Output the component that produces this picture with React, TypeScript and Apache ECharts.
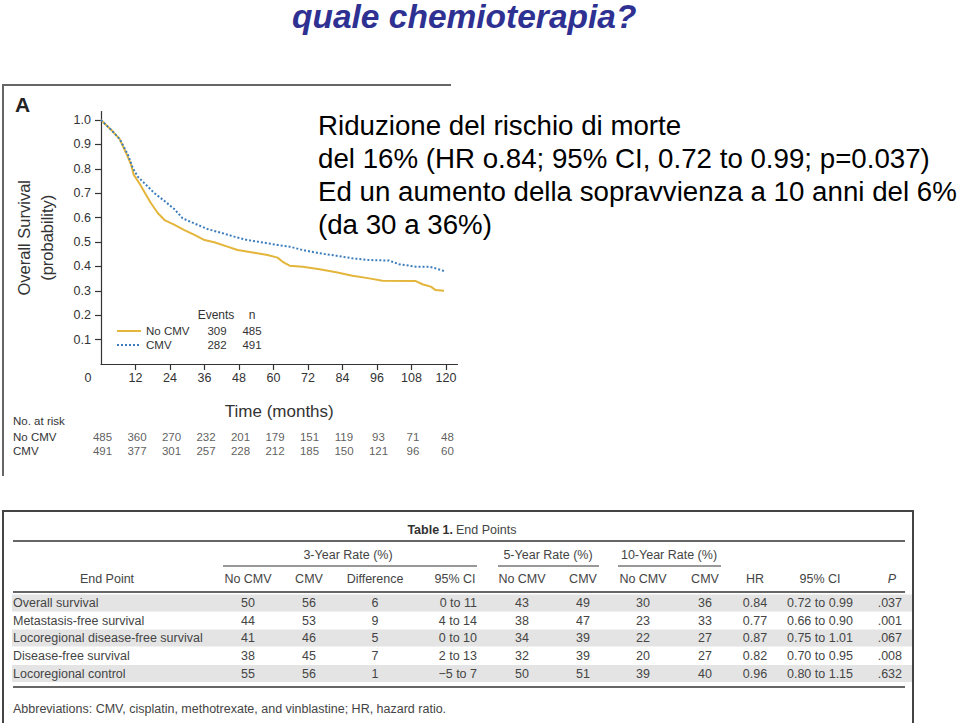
import React, { useEffect, useRef } from 'react';
import * as echarts from 'echarts';

const FONT = '"Liberation Sans", Arial, Helvetica, sans-serif';

// ---- texts ----
const titleText = 'quale chemioterapia?';
const noteLines = [
  'Riduzione del rischio di morte',
  'del 16% (HR o.84; 95% CI, 0.72 to 0.99; p=0.037)',
  'Ed un aumento della sopravvienza a 10 anni del 6%',
  '(da 30 a 36%)',
];

// ---- Kaplan-Meier figure ----
const xTicks = [0, 12, 24, 36, 48, 60, 72, 84, 96, 108, 120];
const yTicks = [0.1, 0.2, 0.3, 0.4, 0.5, 0.6, 0.7, 0.8, 0.9, 1.0];

const noCmvTime = [0, 3.6, 6.5, 8.8, 10.5, 11.4, 13.4, 15.7, 17.4, 19.8, 22.1, 25.6, 29, 32.5, 36, 39.4, 44, 47.5, 53.3, 57.9, 61.4, 63.2, 65.6, 70.2, 76, 81.8, 87.5, 93.3, 97.9, 109.5, 111.8, 114.7, 116.4, 119.3];
const noCmvSurv = [1.0, 0.959, 0.922, 0.863, 0.816, 0.775, 0.74, 0.693, 0.659, 0.618, 0.59, 0.57, 0.549, 0.529, 0.508, 0.499, 0.481, 0.467, 0.456, 0.447, 0.436, 0.419, 0.403, 0.399, 0.388, 0.376, 0.362, 0.351, 0.341, 0.34, 0.327, 0.317, 0.303, 0.3];

const cmvTime = [0, 3.6, 6.5, 9.4, 11.1, 12.8, 15.7, 18.6, 22.1, 25.6, 28.4, 32.5, 37.1, 41.7, 46.4, 51, 56.8, 61.4, 65.6, 70.2, 76, 81.8, 87.5, 93.3, 100.2, 103.7, 109.5, 114.1, 116.4, 119.3];
const cmvSurv = [1.0, 0.959, 0.922, 0.857, 0.802, 0.768, 0.734, 0.7, 0.668, 0.634, 0.597, 0.576, 0.553, 0.538, 0.522, 0.508, 0.497, 0.488, 0.481, 0.467, 0.454, 0.444, 0.433, 0.426, 0.424, 0.409, 0.399, 0.399, 0.392, 0.381];

const groupNames = ['No CMV', 'CMV'];
const groupEvents = [309, 282];
const groupN = [485, 491];

const riskNoCmv = [485, 360, 270, 232, 201, 179, 151, 119, 93, 71, 48];
const riskCmv = [491, 377, 301, 257, 228, 212, 185, 150, 121, 96, 60];

// ---- Table 1 ----
const tableTitleBold = 'Table 1.';
const tableTitleRest = 'End Points';
const groupHeaders = ['3-Year Rate (%)', '5-Year Rate (%)', '10-Year Rate (%)'];
const columnHeaders = ['End Point', 'No CMV', 'CMV', 'Difference', '95% CI', 'No CMV', 'CMV', 'No CMV', 'CMV', 'HR', '95% CI', 'P'];
const endPoints = ['Overall survival', 'Metastasis-free survival', 'Locoregional disease-free survival', 'Disease-free survival', 'Locoregional control'];
const noCmv3 = [50, 44, 41, 38, 55];
const cmv3 = [56, 53, 46, 45, 56];
const diff3 = [6, 9, 5, 7, 1];
const ci3 = ['0 to 11', '4 to 14', '0 to 10', '2 to 13', '\u22125 to 7'];
const noCmv5 = [43, 38, 34, 32, 50];
const cmv5 = [49, 47, 39, 39, 51];
const noCmv10 = [30, 23, 22, 20, 39];
const cmv10 = [36, 33, 27, 27, 40];
const hr = ['0.84', '0.77', '0.87', '0.82', '0.96'];
const hrCi = ['0.72 to 0.99', '0.66 to 0.90', '0.75 to 1.01', '0.70 to 0.95', '0.80 to 1.15'];
const pValues = ['.037', '.001', '.067', '.008', '.632'];
const abbreviations = 'Abbreviations: CMV, cisplatin, methotrexate, and vinblastine; HR, hazard ratio.';

function txt(x: number, y: number, text: string, opts: any = {}) {
  return {
    type: 'text',
    x,
    y,
    silent: true,
    style: {
      text,
      fill: opts.fill || '#444',
      fontSize: opts.fontSize || 12.5,
      fontFamily: FONT,
      fontWeight: opts.fontWeight || 'normal',
      fontStyle: opts.fontStyle || 'normal',
      align: opts.align || 'left',
      verticalAlign: 'middle',
    },
  };
}

function hline(x1: number, x2: number, y: number, stroke = '#333', lineWidth = 1.3) {
  return { type: 'line', silent: true, shape: { x1, y1: y, x2, y2: y }, style: { stroke, lineWidth } };
}

function buildTable(): any[] {
  const g: any[] = [];
  const rowY = [603, 620.5, 638, 656, 673.5];
  rowY.forEach((y, i) => {
    if (i % 2 === 0) g.push({ type: 'rect', silent: true, shape: { x: 12, y: y - 8.5, width: 900, height: 17 }, style: { fill: '#e4e4e4' } });
  });
  g.push(hline(3, 914, 511, '#444', 2));
  g.push({ type: 'line', silent: true, shape: { x1: 3, y1: 510, x2: 3, y2: 723 }, style: { stroke: '#444', lineWidth: 2 } });
  g.push({ type: 'line', silent: true, shape: { x1: 913, y1: 510, x2: 913, y2: 723 }, style: { stroke: '#444', lineWidth: 2 } });
  g.push(txt(453, 530, tableTitleBold, { align: 'right', fontWeight: 'bold', fill: '#333' }));
  g.push(txt(456, 530, tableTitleRest, { fill: '#444' }));
  g.push(hline(13, 905, 541));
  const grpX = [348, 548, 669];
  const grpLine = [[223, 477], [498, 599], [618, 721]];
  groupHeaders.forEach((h, i) => {
    g.push(txt(grpX[i], 555, h, { align: 'center' }));
    g.push(hline(grpLine[i][0], grpLine[i][1], 566, '#333', 1.2));
  });
  const colX = [107, 248, 309, 375, 455, 522, 583, 643, 705, 755, 820, 892];
  columnHeaders.forEach((h, i) => {
    g.push(txt(colX[i], 579, h, { align: 'center', fontStyle: h === 'P' ? 'italic' : 'normal' }));
  });
  g.push(hline(13, 905, 592));
  const cols: { vals: (string | number)[]; x: number; align: string }[] = [
    { vals: endPoints, x: 13, align: 'left' },
    { vals: noCmv3, x: 248, align: 'center' },
    { vals: cmv3, x: 309, align: 'center' },
    { vals: diff3, x: 375, align: 'center' },
    { vals: ci3, x: 477, align: 'right' },
    { vals: noCmv5, x: 522, align: 'center' },
    { vals: cmv5, x: 583, align: 'center' },
    { vals: noCmv10, x: 643, align: 'center' },
    { vals: cmv10, x: 705, align: 'center' },
    { vals: hr, x: 755, align: 'center' },
    { vals: hrCi, x: 820, align: 'center' },
    { vals: pValues, x: 902, align: 'right' },
  ];
  cols.forEach((c) => {
    c.vals.forEach((v, r) => g.push(txt(c.x, rowY[r], String(v), { align: c.align })));
  });
  g.push(hline(13, 905, 687));
  g.push(txt(13, 709, abbreviations));
  return g;
}

function buildOption(): any {
  const graphic: any[] = [];
  graphic.push(hline(3, 451, 85, '#666', 2));
  graphic.push({ type: 'line', silent: true, shape: { x1: 3, y1: 84, x2: 3, y2: 476 }, style: { stroke: '#666', lineWidth: 2 } });
  graphic.push(txt(15, 104, 'A', { fontSize: 21, fontWeight: 'bold', fill: '#222' }));
  graphic.push(txt(216, 315, 'Events', { align: 'center', fontSize: 12, fill: '#333' }));
  graphic.push(txt(252, 315, 'n', { align: 'center', fontSize: 12, fill: '#333' }));
  graphic.push(txt(13, 421, 'No. at risk', { fontSize: 11.5, fill: '#333' }));
  graphic.push(txt(292, 16, titleText, { fontSize: 33.5, fontWeight: 'bold', fontStyle: 'italic', fill: '#2E3192' }));
  const noteY = [125, 158, 191, 224];
  noteLines.forEach((l, i) => graphic.push(txt(318, noteY[i], l, { fontSize: 27.7, fill: '#000' })));
  graphic.push(...buildTable());

  const riskData: any[] = [];
  xTicks.forEach((t, i) => {
    riskData.push([t, groupNames[0], riskNoCmv[i]]);
    riskData.push([t, groupNames[1], riskCmv[i]]);
  });

  return {
    animation: false,
    backgroundColor: '#ffffff',
    textStyle: { fontFamily: FONT },
    grid: [
      { left: 101, top: 111.5, width: 356.5, height: 252.5, containLabel: false, outerBoundsMode: 'none' },
      { left: 101, top: 430, width: 356.5, height: 28, containLabel: false, outerBoundsMode: 'none' },
    ],
    xAxis: [
      {
        type: 'value',
        gridIndex: 0,
        min: 0,
        max: 124,
        name: 'Time (months)',
        nameLocation: 'middle',
        nameGap: 39,
        nameTextStyle: { fontSize: 17, color: '#333', fontFamily: FONT },
        axisLine: { lineStyle: { color: '#333', width: 1.2 } },
        axisTick: { show: true, customValues: xTicks.filter((v) => v > 0), length: 6, lineStyle: { color: '#333', width: 1.2 } },
        axisLabel: {
          customValues: xTicks,
          margin: 7,
          fontSize: 12.5,
          color: '#333',
          formatter: (v: number) => (v === 0 ? '{z|0}' : xTicks.indexOf(v) >= 0 ? String(v) : ''),
          rich: { z: { padding: [0, 26, 0, 0], fontSize: 12.5, color: '#333' } },
        },
        splitLine: { show: false },
      },
      { type: 'value', gridIndex: 1, min: 0, max: 124, show: false },
    ],
    yAxis: [
      {
        type: 'value',
        gridIndex: 0,
        min: 0,
        max: 1.035,
        name: 'Overall Survival\n(probability)',
        nameLocation: 'middle',
        nameGap: 43,
        nameRotate: 90,
        nameTextStyle: { fontSize: 16.5, lineHeight: 23, color: '#333', align: 'center', fontFamily: FONT },
        axisLine: { show: true, lineStyle: { color: '#333', width: 1.2 } },
        axisTick: { show: true, customValues: yTicks, length: 6, lineStyle: { color: '#333', width: 1.2 } },
        axisLabel: { customValues: yTicks, margin: 10, fontSize: 12.5, color: '#333', formatter: (v: number) => v.toFixed(1) },
        splitLine: { show: false },
      },
      {
        type: 'category',
        gridIndex: 1,
        data: groupNames,
        inverse: true,
        axisLine: { show: false },
        axisTick: { show: false },
        axisLabel: { interval: 0, align: 'left', margin: 88, fontSize: 11.5, color: '#333' },
      },
    ],
    legend: {
      orient: 'vertical',
      left: 116,
      top: 325,
      padding: 0,
      itemWidth: 24,
      itemHeight: 10,
      itemGap: 2,
      selectedMode: false,
      data: groupNames,
      itemStyle: { opacity: 0 },
      formatter: (name: string) => {
        const i = groupNames.indexOf(name);
        return `{a|${name}}{b|${groupEvents[i]}}{c|${groupN[i]}}`;
      },
      textStyle: {
        fontSize: 11.5,
        color: '#333',
        rich: {
          a: { width: 51, fontSize: 11.5, color: '#333', lineHeight: 11 },
          b: { width: 40, align: 'center', fontSize: 11.5, color: '#333', lineHeight: 11 },
          c: { width: 30, align: 'center', fontSize: 11.5, color: '#333', lineHeight: 11 },
        },
      },
    },
    series: [
      {
        name: groupNames[0],
        type: 'line',
        xAxisIndex: 0,
        yAxisIndex: 0,
        data: noCmvTime.map((t, i) => [t, noCmvSurv[i]]),
        symbol: 'none',
        showSymbol: false,
        color: '#E3B53A',
        lineStyle: { color: '#E3B53A', width: 2 },
        z: 3,
        silent: true,
      },
      {
        name: groupNames[1],
        type: 'line',
        xAxisIndex: 0,
        yAxisIndex: 0,
        data: cmvTime.map((t, i) => [t, cmvSurv[i]]),
        symbol: 'none',
        showSymbol: false,
        color: '#3C7DBE',
        lineStyle: { color: '#3C7DBE', width: 2, type: [2, 2] },
        z: 4,
        silent: true,
      },
      {
        name: 'at risk',
        type: 'scatter',
        xAxisIndex: 1,
        yAxisIndex: 1,
        data: riskData,
        symbolSize: 1,
        itemStyle: { color: 'rgba(0,0,0,0)' },
        silent: true,
        label: {
          show: true,
          position: 'inside',
          offset: [1.5, 0],
          fontSize: 11.5,
          color: '#333',
          formatter: (p: any) => String(p.value[2]),
        },
      },
    ],
    graphic,
  };
}

export default function App() {
  const ref = useRef<HTMLDivElement>(null);
  useEffect(() => {
    if (!ref.current) return;
    const chart = echarts.init(ref.current, undefined, { renderer: 'svg' });
    chart.setOption(buildOption());
    return () => chart.dispose();
  }, []);
  return (
    <div
      ref={ref}
      style={{ position: 'absolute', left: 0, top: 0, width: 960, height: 723, background: '#fff' }}
    />
  );
}
